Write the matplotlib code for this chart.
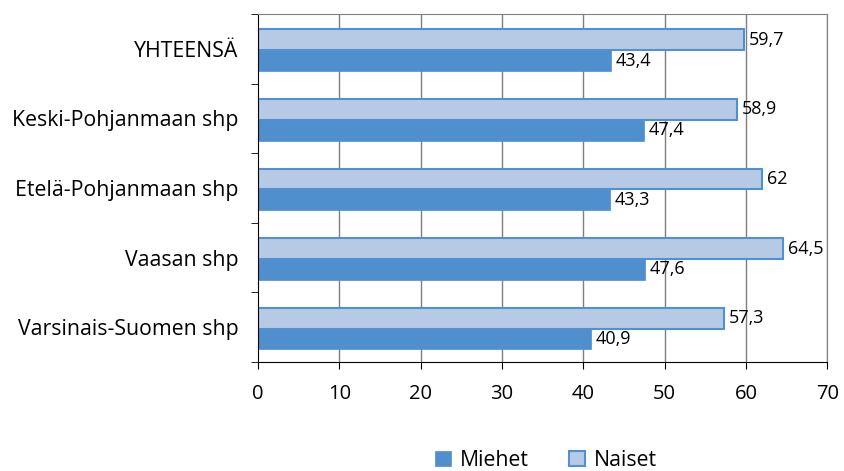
import matplotlib.pyplot as plt
import numpy as np

plt.rcParams['font.family'] = ['Open Sans', 'DejaVu Sans']

categories = ['YHTEENSÄ', 'Keski-Pohjanmaan shp', 'Etelä-Pohjanmaan shp',
              'Vaasan shp', 'Varsinais-Suomen shp']
miehet = [43.4, 47.4, 43.3, 47.6, 40.9]
naiset = [59.7, 58.9, 62, 64.5, 57.3]
naiset_labels = ['59,7', '58,9', '62', '64,5', '57,3']
miehet_labels = ['43,4', '47,4', '43,3', '47,6', '40,9']

fig = plt.figure(figsize=(8.44, 4.71), dpi=100)
ax = fig.add_axes([0.3057, 0.2314, 0.6746, 0.7389])

# categories from top to bottom
y = np.arange(len(categories))[::-1]
h = 0.3

# vertical gridlines
for xv in range(10, 80, 10):
    ax.axvline(xv, color='#7f7f7f', lw=1, zorder=0)

b_m = ax.barh(y - h / 2 - 0.02, miehet, height=h, color='#4F8FCE', edgecolor='#4F8FCE',
              lw=0.5, label='Miehet', zorder=2)
b_n = ax.barh(y + h / 2 - 0.02, naiset, height=h, color='#B6CAE6', edgecolor='#5290D0',
              lw=1.5, label='Naiset', zorder=2)

for bar, lab in zip(b_m, miehet_labels):
    ax.text(bar.get_width() + 0.6, bar.get_y() + bar.get_height() / 2, lab,
            va='center', ha='left', fontsize=13)
for bar, lab in zip(b_n, naiset_labels):
    ax.text(bar.get_width() + 0.6, bar.get_y() + bar.get_height() / 2, lab,
            va='center', ha='left', fontsize=13)

ax.set_xlim(0, 70)
ax.set_ylim(-0.5, len(categories) - 0.5)
ax.set_xticks(range(0, 80, 10))
ax.tick_params(axis='x', labelsize=14.5, length=5, direction='out', pad=11)

ax.set_yticks(y)
ax.set_yticklabels(categories, fontsize=15.3)
ax.tick_params(axis='y', length=0, pad=14)
# tick marks between the categories
ax.set_yticks(np.arange(-0.5, len(categories), 1), minor=True)
ax.tick_params(axis='y', which='minor', length=5, direction='out')

for side in ['top', 'right']:
    ax.spines[side].set_color('#808080')
ax.spines['left'].set_color('black')
ax.spines['bottom'].set_color('black')

handles = [b_m, b_n]
fig.legend(handles, ['Miehet', 'Naiset'], loc='lower center', ncol=2,
           bbox_to_anchor=(0.647, -0.04), frameon=False, fontsize=15.3,
           handlelength=0.75, handleheight=0.75, columnspacing=1.9, handletextpad=0.4)

fig.savefig('out.png', dpi=100)
